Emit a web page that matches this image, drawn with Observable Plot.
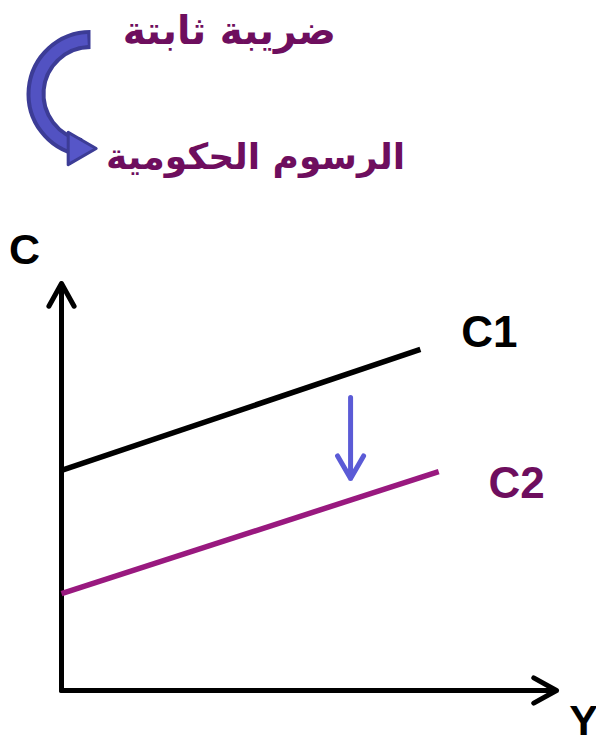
<!DOCTYPE html>
<html><head><meta charset="utf-8">
<script src="https://cdn.jsdelivr.net/npm/d3@7"></script>
<script src="https://cdn.jsdelivr.net/npm/@observablehq/plot@0.6"></script>
<style>html,body{margin:0;padding:0;background:#fff;overflow:hidden}</style>
</head><body><div id="chart"></div>
<script>
// Consumption curves (abstract units)
const series = ["C1", "C2"];
const seriesX1 = [0, 0];
const seriesY1 = [5.41, 2.38];
const seriesX2 = [7.25, 7.62];
const seriesY2 = [8.38, 5.38];

// axes
const axisNames = ["C", "Y"];
const axisX1 = [0, 0];
const axisY1 = [0, 0];
const axisX2 = [0, 10];
const axisY2 = [10, 0];

// downward shift indicator
const shiftX = [5.84];
const shiftFrom = [7.2];
const shiftTo = [5.21];

// header: fixed tax -> government fees
const headerTexts = ["ضريبة ثابتة", "الرسوم الحكومية"];
const headerX = [3.39, 3.92];
const headerY = [16.2, 13.1];
const curveX1 = [0.586];
const curveY1 = [15.995];
const curveX2 = [0.586];
const curveY2 = [13.317];

const lines = series.map((s, i) => ({s, x1: seriesX1[i], y1: seriesY1[i], x2: seriesX2[i], y2: seriesY2[i]}));
const axes = axisNames.map((n, i) => ({n, x1: axisX1[i], y1: axisY1[i], x2: axisX2[i], y2: axisY2[i]}));
const shift = shiftX.map((x, i) => ({x, y1: shiftFrom[i], y2: shiftTo[i]}));
const header = headerTexts.map((t, i) => ({t, x: headerX[i], y: headerY[i]}));
const curve = curveX1.map((x, i) => ({x1: x, y1: curveY1[i], x2: curveX2[i], y2: curveY2[i]}));

const latin = "'Liberation Sans', Arial, sans-serif";
const arabic = "'DejaVu Sans', sans-serif";

const chart = Plot.plot({
  width: 596,
  height: 739,
  marginLeft: 61,
  marginRight: 40,
  marginTop: 283,
  marginBottom: 49,
  x: {domain: [0, 10], axis: null},
  y: {domain: [0, 10], axis: null},
  color: {domain: series, range: ["#000000", "#99197f"]},
  marks: [
    // axes with open arrow heads
    Plot.arrow(axes, {x1: "x1", y1: "y1", x2: "x2", y2: "y2", stroke: "#000", strokeWidth: 5, headLength: 7.8, headAngle: 58, strokeLinecap: "round", strokeLinejoin: "round"}),
    Plot.text(axes.slice(0, 1), {x: "x2", y: "y2", text: "n", dx: -37, dy: -33, fontSize: 43, fontWeight: "bold", fontFamily: latin, fill: "#000"}),
    Plot.text(axes.slice(1), {x: "x2", y: "y2", text: "n", dx: 27, dy: 31, fontSize: 43, fontWeight: "bold", fontFamily: latin, fill: "#000"}),
    // consumption lines
    Plot.link(lines, {x1: "x1", y1: "y1", x2: "x2", y2: "y2", stroke: (d) => d.s, strokeWidth: 5.5}),
    Plot.text(lines.slice(0, 1), {x: "x2", y: "y2", text: "s", dx: 69, dy: -17, fontSize: 44, fontWeight: "bold", fontFamily: latin, fill: "#000"}),
    Plot.text(lines.slice(1), {x: "x2", y: "y2", text: "s", dx: 78, dy: 12, fontSize: 44, fontWeight: "bold", fontFamily: latin, fill: "#6e0e5e"}),
    // shift arrow
    Plot.arrow(shift, {x: "x", y1: "y1", y2: "y2", stroke: "#5b5bd6", strokeWidth: 5, headLength: 7.8, headAngle: 60}),
    // header curved arrow
    Plot.arrow(curve, {x1: "x1", y1: "y1", x2: "x2", y2: "y2", bend: -90, stroke: "#3c3c96", strokeWidth: 19, headLength: 0, insetEnd: 10, strokeLinecap: "butt"}),
    Plot.arrow(curve, {x1: "x1", y1: "y1", x2: "x2", y2: "y2", bend: -90, stroke: "#5252c2", strokeWidth: 11, headLength: 0, insetStart: 3, insetEnd: 10, strokeLinecap: "butt"}),
    Plot.dot(curve, {x: "x2", y: "y2", symbol: "triangle", r: 12, rotate: 90, dx: -13, fill: "#5656c8", stroke: "#3c3c96", strokeWidth: 3, strokeLinejoin: "round"}),
    // header texts
    Plot.text(header.slice(0, 1), {x: "x", y: "y", text: "t", fontSize: 39, fontWeight: "bold", fontFamily: arabic, fill: "#6e0e5e"}),
    Plot.text(header.slice(1), {x: "x", y: "y", text: "t", fontSize: 36, fontWeight: "bold", fontFamily: arabic, fill: "#6e0e5e"})
  ]
});
document.getElementById("chart").appendChild(chart);
</script>
</body></html>
